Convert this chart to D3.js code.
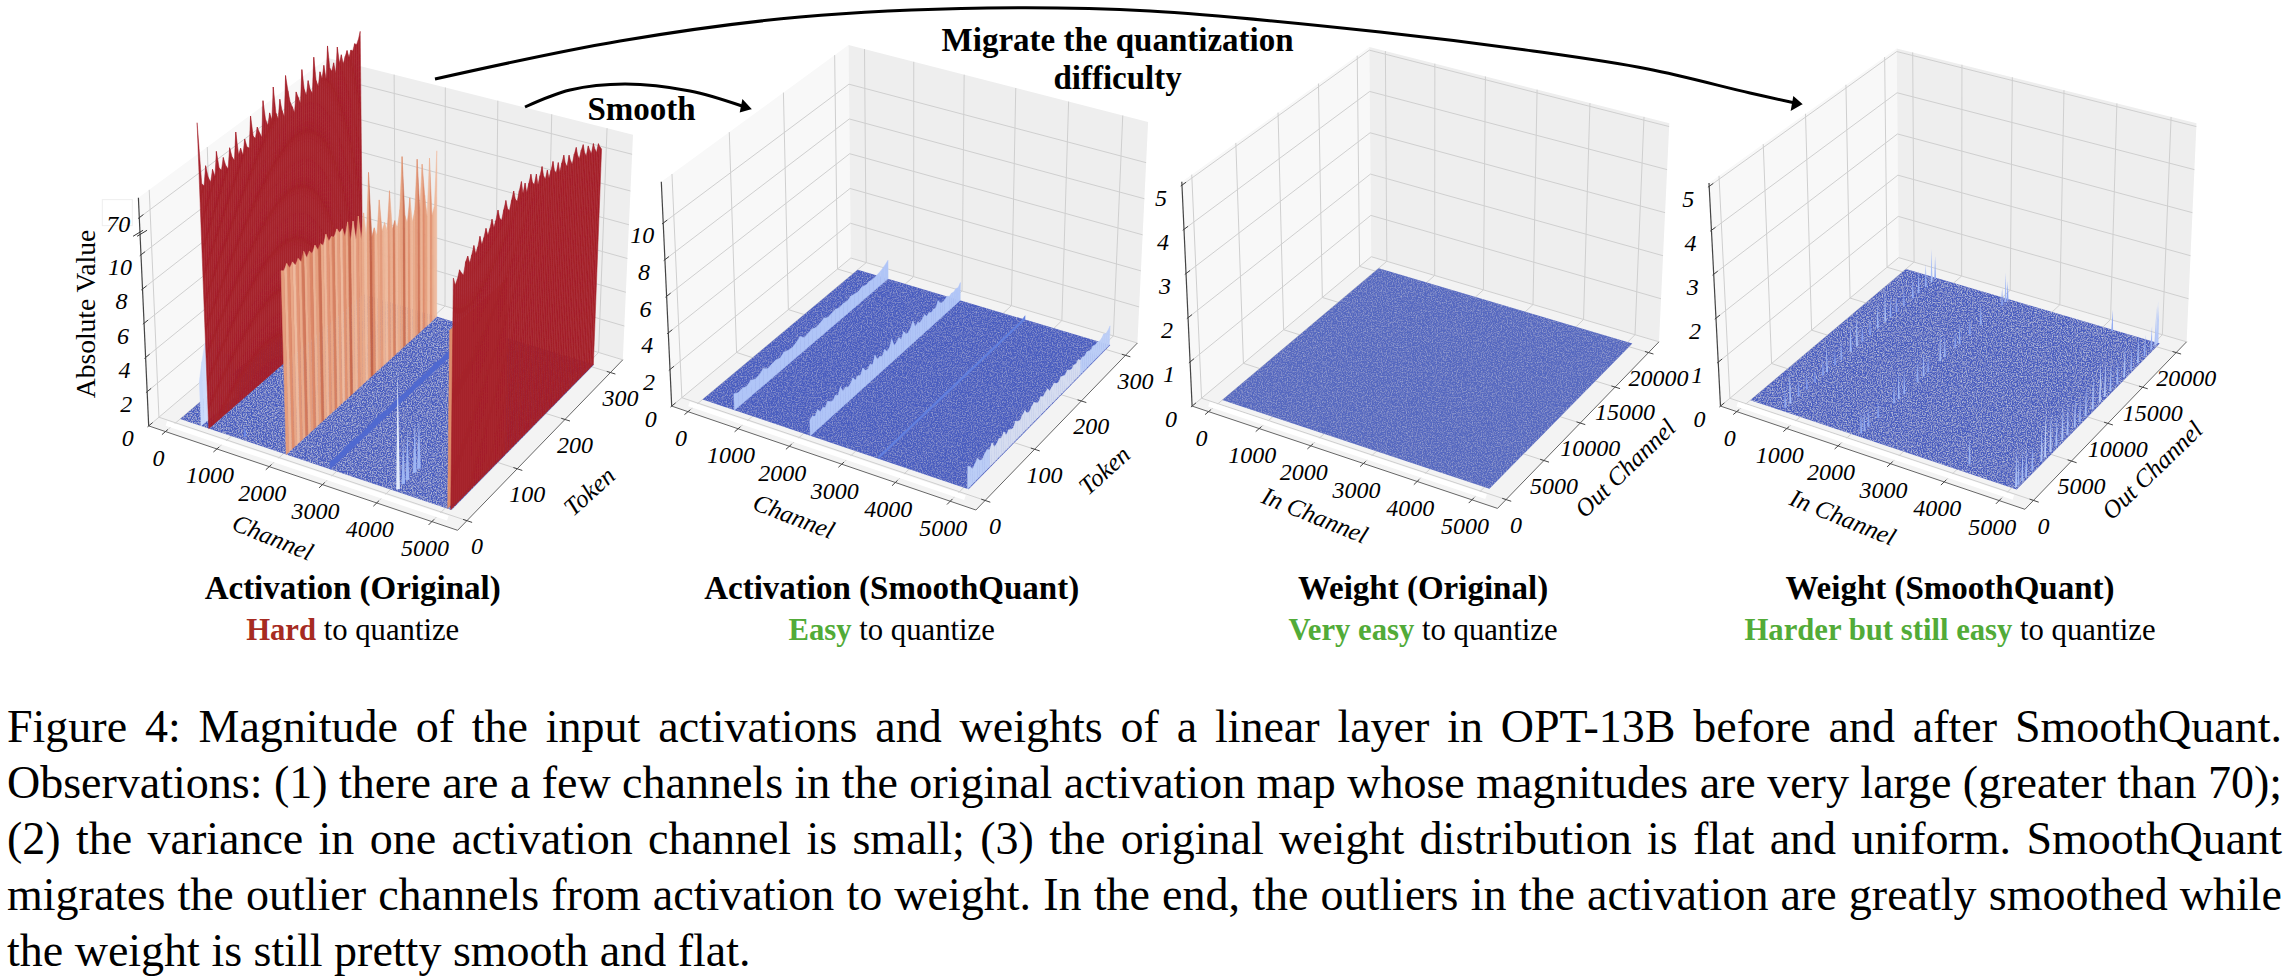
<!DOCTYPE html>
<html><head><meta charset="utf-8">
<script src="https://cdn.jsdelivr.net/npm/d3@7"></script>
<style>html,body{margin:0;background:#fff}svg{display:block}text{font-family:"Liberation Serif",serif;fill:#000}</style>
</head><body><svg id="c" width="2288" height="976"></svg>
<script>
// ---- values ----
const channelTicks=[0,1000,2000,3000,4000,5000];
const tokenTicks=[0,100,200,300];
const outChannelTicks=[0,5000,10000,15000,20000];
const zTicksA=[0,2,4,6,8,10,70];
const zTicksB=[0,2,4,6,8,10];
const zTicksW=[0,1,2,3,4,5];
const wall1Values=[228,126,120,150,128,118,136,122,160,130,124,142,126,118,150,132,124,168,128,136,122,146,130,126,176,140,134,150,138,128,186,152,140,158,144,196,150,138,168,146,134,200,172,150,140,128,160,148,136,190,154,142,164,146,138,196,154,142,164,150,170,144,198,158,150,162,142,184,154,166,148,158,166,152,162,158,168,164,170,182];
const wall4Values=[98,84,90,102,94,88,106,112,98,108,120,104,112,126,110,118,130,116,124,136,120,128,142,126,120,134,146,130,124,138,150,134,128,142,154,132,146,128,140,152,136,130,144,124,136,148,130,122,134,118,128,140,122,116,130,112,124,134,118,110,126,114,106,120,128,112,104,116,122,106,98,112,102,94,108,96,88,100,92,86];
const salmonValues=[27,23,31,20,26,17,24,15,28,14,21,13,23,12,18,11.5,26,11,15,10.5,20,10,13,9.5,17,9,11,8.8,12,8.5,10,8.4,69,8.2,8.6,8,10,8,8.4,7.8,11,7.6,8,7.4,8.4,50,7.8,7.2,8.6,7,7.6,25,7.4,10,8,6.6,10,6.4,6.8,12];
const salmonShade=[.5,.2,.7,.35,.1,.6,.3,.85,.25,.5,.75,.2,.45,.9,.3,.15,.6,.35,.8,.2,.5,.1,.65,.3,.95,.25,.15,.55,.4,.3,.1,.45,1,.7,.15,.35,.5,.2,.1,.5,.25,.8,.15,.3,.4,.9,.2,.6,.15,.3,.5,.85,.2,.7,.4,.1,.6,.2,.1,.7];
const sliverValues=[14,13,12,12,11,11];
const paleLeftValues=[2.6,3.6,4.4,5.1,4.2,3.4,4.8,3.8,3,2.8,2.6,2.4];
const bandValues=[.42,.36,.46,.4,.34,.42,.46,.36,.42,.38,.34,.42,.36,.44,.38,.42,.34,.38,.42,.36];
const spikeChannel=[[1200,14,.6],[4100,12,6.7],[4100,22,2.5],[4100,30,2.8],[4100,44,2.9],[4100,52,2.8]];
const ridgeA=[.9,.75,.8,.7,.85,.7,.75,.9,.7,.75,.8,.7,.85,.75,.7,.8,.95,.7,.75,.8,.7,.75,.85,.7,.75,.8,.7,.75,.7,.8,.75,.7,.8,.7,.75,.7,.75,.8,.9,1.05];
const ridgeB=[.85,.95,.8,1.05,.8,.9,.78,1.0,.85,.78,.95,.82,1.15,.8,.9,.78,.85,1.05,.8,.92,.8,1.1,.85,.78,.95,.8,1.2,.85,.9,.78,1.05,.82,.9,1.25,.8,.85,1.0,.78,1.1,.85,.8,.95,1.2,.8,.9,.78,.85,1.0,.8,.88,.78,.85,.8,1.1,.85,.78,.82,.9,.78,.85,.8,.88,.82,1.0];
const ridgeC=[.12,.14,.12,.13,.14,.12,.15,.13,.12,.14,.13,.12,.16,.13,.12,.14,.13,.15,.12,.13,.14,.12,.13,.15,.14,.12,.13,.14,.12,.15,.13,.12,.14,.13,.12,.14,.13,.12,.14,.22];
const ridgeD=[1.2,1.05,.8,.95,1.1,.85,.78,.95,1.05,.9,1.15,.8,.85,1,.9,1.1,.8,.95,.85,.78,1.05,.9,.82,1,1.1,.85,.78,.95,1.05,.9,.8,1,.85,.95,1.05,.8,.9,1,.85,.78,.95,.9,.82,.98,.85,.78,.9,.82,.95,.8,.85,.78,.9,.82,.78,.88,.8,.85,.78,.82,.95,.85,.9,1.05];
const spikeWeightA=[[640,900,.5],[640,1500,.75],[640,2500,.4],[640,3500,.35],[640,4500,.3],[640,5500,.4],[640,6000,.6],[640,7000,.35],[640,7800,.45],[640,9000,.65],[640,9800,.75],[640,10500,.4],[640,11500,.4],[640,12500,.6],[640,13500,.8],[640,14200,.5],[640,15000,.4],[640,16000,.4],[640,17200,.5],[640,18000,.55],[640,19000,.55],[640,19800,.8],[640,20300,.55]];
const spikeWeightB=[[2130,900,.5],[2130,1300,.5],[2130,1800,.45],[2130,3000,.4],[2130,5000,.5],[2130,5600,.65],[2130,6300,.55],[2130,8000,.5],[2130,8800,.6],[2130,9400,.4],[2130,11000,.7],[2130,11600,.55],[2130,13000,.4],[2130,13600,.5],[2130,15000,.4],[2130,16500,.5],[2130,19500,.4],[2130,20000,.7],[2130,20300,.45]];
const spikeWeightC=[[5050,700,.85],[5050,1000,.6],[5050,1500,.7],[5050,2000,.65],[5050,2800,.55],[5050,4000,.8],[5050,4500,1.05],[5050,5200,.9],[5050,6000,.7],[5050,6800,.8],[5050,7500,.7],[5050,8500,.7],[5050,9200,.55],[5050,10000,.7],[5050,11000,.8],[5050,12000,1],[5050,12700,.9],[5050,13500,.65],[5050,14500,.55],[5050,15500,.75],[5050,16500,.5],[5050,17500,.65],[5050,18500,.5],[5050,19500,.55],[5050,20100,.9],[5050,20300,1],[5050,20450,.9],[4200,20300,.5],[4100,1400,.6]];
const captionLines=[
"Figure 4: Magnitude of the input activations and weights of a linear layer in OPT-13B before and after SmoothQuant.",
"Observations: (1) there are a few channels in the original activation map whose magnitudes are very large (greater than 70);",
"(2) the variance in one activation channel is small; (3) the original weight distribution is flat and uniform. SmoothQuant",
"migrates the outlier channels from activation to weight. In the end, the outliers in the activation are greatly smoothed while",
"the weight is still pretty smooth and flat."];

// ---- layout ----
const FL=[[148.7,425.9],[457.6,530.3],[622.8,359.8],[330.8,271.5]], TL=[[138.4,197.8],[461,295],[633,134.7],[328,58]];
const panels=[
 {floor:FL,top:TL,xD:[-330,5460],yD:[-18,328],yStart:8,yTicks:tokenTicks,yMax:305,zD:[0,10,70,160],zR:[0,.75,.913,1.155],zT:zTicksA,xTitle:"Channel",xT:[273,537,22],yTitle:"Token",yT:[589,491,-42],head:"Activation (Original)",cx:352.7,strong:"Hard",col:"#a62b22",xMax:5110},
 {floor:[[671.7,406.1],[975.9,510],[1137.4,343],[850.8,258]],top:[[661.3,181.8],[979,278],[1148.1,122],[848.5,45]],xD:[-330,5460],yD:[-18,328],yStart:8,yTicks:tokenTicks,yMax:310,zD:[0,10],zR:[0,.816],zT:zTicksB,xTitle:"Channel",xT:[794,516,21],yTitle:"Token",yT:[1104,470,-42],head:"Activation (SmoothQuant)",cx:891.7,strong:"Easy",col:"#52ab38",xMax:5090},
 {floor:[[1192.1,406.1],[1497.5,508.4],[1659,341.8],[1371.2,256.7]],top:[[1181.8,181.8],[1500.8,276.4],[1669.3,123.3],[1369.3,47]],xD:[-330,5460],yD:[-1100,21600],yStart:500,yTicks:outChannelTicks,yMax:20480,zD:[0,5],zR:[0,.985],zT:zTicksW,xTitle:"In Channel",xT:[1315,515,22],yTitle:"Out Channel",yT:[1625,468,-44],head:"Weight (Original)",cx:1423,strong:"Very easy",col:"#52ab38",xMax:5090},
 {floor:[[1720.5,406.1],[2024.9,509.3],[2186.6,341.8],[1898.6,257.6]],top:[[1709,183],[2028,277.3],[2196.5,123.3],[1896.7,48.4]],xD:[-330,5460],yD:[-1100,21600],yStart:500,yTicks:outChannelTicks,yMax:20480,zD:[0,5],zR:[0,.985],zT:zTicksW,xTitle:"In Channel",xT:[1843,517,22],yTitle:"Out Channel",yT:[2152,470,-44],head:"Weight (SmoothQuant)",cx:1950,strong:"Harder but still easy",col:"#52ab38",xMax:5090}
];
function homography(q){const [A,B,C,D]=q;
 const dx1=B[0]-C[0],dx2=D[0]-C[0],sx=A[0]-B[0]+C[0]-D[0],dy1=B[1]-C[1],dy2=D[1]-C[1],sy=A[1]-B[1]+C[1]-D[1];
 const den=dx1*dy2-dx2*dy1,g=(sx*dy2-dx2*sy)/den,h=(dx1*sy-sx*dy1)/den;
 const a=B[0]-A[0]+g*B[0],b=D[0]-A[0]+h*D[0],d=B[1]-A[1]+g*B[1],e=D[1]-A[1]+h*D[1];
 return (u,v)=>{const w=g*u+h*v+1;return[(a*u+b*v+A[0])/w,(d*u+e*v+A[1])/w]};}
const svg=d3.select("#c");
const defs=svg.append("defs");
function speck(id,ka,kb){const fl=defs.append("filter").attr("id",id).attr("x",0).attr("y",0).attr("width",1).attr("height",1);
 fl.append("feTurbulence").attr("type","fractalNoise").attr("baseFrequency",.8).attr("numOctaves",2).attr("seed",4).attr("result","n");
 fl.append("feColorMatrix").attr("in","n").attr("type","matrix").attr("values",`0 0 0 0 .50  0 0 0 0 .54  0 0 0 0 .70  ${ka} 0 0 0 ${kb}`).attr("result","m");
 fl.append("feComposite").attr("in","m").attr("in2","SourceGraphic").attr("operator","in").attr("result","sp");
 fl.append("feGaussianBlur").attr("in","sp").attr("stdDeviation",.45).attr("result","b");
 const mg=fl.append("feMerge");mg.append("feMergeNode").attr("in","SourceGraphic");mg.append("feMergeNode").attr("in","b");}
speck("speck",2.4,-1.0);speck("speckSoft",1.3,-.56);
defs.append("filter").attr("id","soft").append("feGaussianBlur").attr("stdDeviation",.45);
const blues=d3.scaleLinear().domain([0,.2,.7,1.3,3,7]).range(["#4a5fc4","#6684e6","#a9c0f7","#c4d3f6","#c9d9fb","#e8effd"]);
const spikeBlue=d3.scaleLinear().domain([.3,.6,1.2]).range(["#7f99ee","#9db5f4","#c2d3fa"]);
const shade=d3.scaleLinear().domain([0,.3,.7,1]).range(["#f0c3a9","#e9ab8b","#df8d6c","#c4654a"]);
const RED="#a5212b";
const poly=(g,pts,fill,extra)=>g.append("path").attr("d",d3.line()(pts)+"Z").attr("fill",fill).attr("stroke",extra||"none").attr("stroke-width",extra?.5:0);

function drawPanel(p,idx){
 const Hf=homography(p.floor),Ht=homography(p.top);
 const X=d3.scaleLinear().domain(p.xD).range([0,1]),Y=d3.scaleLinear().domain(p.yD).range([0,1]),Z=d3.scaleLinear().domain(p.zD).range(p.zR);
 const P=(u,v,f)=>{const a=Hf(u,v),b=Ht(u,v);return[a[0]+(b[0]-a[0])*f,a[1]+(b[1]-a[1])*f]};
 const D=(x,y,z)=>P(X(x),Y(y),Z(z));
 const g=svg.append("g");
 // panes
 poly(g,[P(0,0,0),P(0,1,0),P(0,1,1),P(0,0,1)],"#f8f8f8");
 poly(g,[P(0,1,0),P(1,1,0),P(1,1,1),P(0,1,1)],"#eeeeee");
 poly(g,[P(0,0,0),P(1,0,0),P(1,1,0),P(0,1,0)],"#f3f3f3");
 const grid=g.append("g").attr("stroke","#cfcfcf").attr("stroke-width",1).attr("fill","none");
 const seg=(s,a,b,c,w)=>s.append("line").attr("x1",a[0]).attr("y1",a[1]).attr("x2",b[0]).attr("y2",b[1]).attr("stroke",c||null).attr("stroke-width",w||null);
 channelTicks.forEach(t=>{const u=X(t);seg(grid,P(u,0,0),P(u,1,0));seg(grid,P(u,1,0),P(u,1,1));});
 p.yTicks.forEach(t=>{const v=Y(t);seg(grid,P(0,v,0),P(1,v,0));seg(grid,P(0,v,0),P(0,v,1));});
 p.zT.forEach(t=>{const f=Z(t);seg(grid,P(0,0,f),P(0,1,f));seg(grid,P(0,1,f),P(1,1,f));});
 // axes
 const ax=g.append("g");
 seg(ax,P(0,0,0),P(0,0,1),"#444",1.2);seg(ax,P(0,0,0),P(1,0,0),"#666",1);seg(ax,P(1,0,0),P(1,1,0),"#666",1);
 const tick=(x,y,s)=>g.append("text").attr("x",x).attr("y",y).attr("dy",".35em").attr("text-anchor","middle").attr("font-size",24).attr("font-style","italic").text(s);
 channelTicks.forEach(t=>{const u=X(t);seg(ax,P(u,-.018,0),P(u,.012,0),"#444",1);const q=P(u,0,0);tick(q[0]-7,q[1]+26,t);});
 p.yTicks.forEach(t=>{const v=Y(t);seg(ax,P(1.016,v,0),P(.988,v,0),"#444",1);const q=P(1,v,0);tick(q[0]+10,q[1]+25,t);});
 p.zT.forEach(t=>{const f=Z(t);seg(ax,P(0,-.006,f),P(0,.02,f),"#444",1);const q=P(0,0,f);
  if(t===70){g.append("rect").attr("x",q[0]-37).attr("y",q[1]-18).attr("width",30).attr("height",26).attr("fill","#fff").attr("stroke","#eee");tick(q[0]-21,q[1]+6,t);}
  else tick(q[0]-21,q[1]+12,t);});
 // axis titles
 const title=(s,t)=>g.append("text").attr("transform",`translate(${t[0]},${t[1]}) rotate(${t[2]})`).attr("dy",".35em").attr("text-anchor","middle").attr("font-size",25).attr("font-style","italic").text(s);
 title(p.xTitle,p.xT);title(p.yTitle,p.yT);
 // surface
 const base=g.append("g");
 const tM=p.yMax,t0=p.yStart,xMax=p.xMax;
 seg(base,D(-120,t0*-.7,0),D(xMax+60,t0*-.7,0),"#fff",5);
 const surface=[D(0,t0,0),D(xMax,t0,0),D(xMax,tM,0),D(0,tM,0)];
 base.append("path").attr("d",d3.line()(surface)+"Z").attr("fill",idx===2?"#5568c0":"#4a5dc0").attr("filter",idx%3===0?"url(#speck)":"url(#speckSoft)");
 const marks=g.append("g").attr("filter","url(#soft)");
 const wall=(ch,vals,color,tMax)=>{const T=d3.scaleLinear().domain([0,vals.length-1]).range([t0,tMax||tM]);
  for(let i=vals.length-2;i>=0;i--){const c=color(vals[i],i);
   poly(marks,[D(ch,T(i),0),D(ch,T(i+1),0),D(ch,T(i+1),vals[i+1]),D(ch,T(i),vals[i])],c,c);}};
 const spike=(d,dc,dt,c)=>poly(marks,[D(d[0]-dc,d[1]-dt,0),D(d[0]+dc,d[1]+dt,0),D(d[0],d[1],d[2])],c);
 if(idx===0){
  wall(410,paleLeftValues,v=>blues(Math.max(v,1.6)),70);
  wall(560,wall1Values,()=>RED);
  spikeChannel.filter(d=>d[0]<1500).forEach(d=>spike(d,14,1.2,"#6d8ae8"));
  wall(2050,salmonValues,(v,i)=>shade(salmonShade[i]));
  wall(2880,bandValues,()=>"#5069d0");
  spikeChannel.filter(d=>d[0]>1500).slice().sort((a,b)=>b[1]-a[1]).forEach(d=>spike(d,22,1.2,d[2]>4?"#e3ebfc":"#9db5f4"));
  wall(5040,sliverValues,()=>"#dd8d6c",120);
  wall(5095,wall4Values,()=>RED);
 }
 if(idx===1){
  wall(640,ridgeA,v=>blues(.85));
  wall(2130,ridgeB,v=>blues(.85));
  wall(3430,ridgeC,v=>"#6280e0");
  wall(5070,ridgeD,(v,i)=>i<9||i>48?blues(1.1):"#d5dcf0");
 }
 if(idx===3){
  [...spikeWeightA,...spikeWeightB,...spikeWeightC].sort((a,b)=>a[0]-b[0]||b[1]-a[1]).forEach(d=>spike(d,12,50,spikeBlue(d[2])));
 }
 // headings
 g.append("text").attr("x",p.cx).attr("y",599).attr("text-anchor","middle").attr("font-size",33).attr("font-weight","bold").text(p.head);
 const sub=g.append("text").attr("x",p.cx).attr("y",640).attr("text-anchor","middle").attr("font-size",30.7);
 sub.append("tspan").attr("font-weight","bold").attr("style",`fill:${p.col}`).text(p.strong);
 sub.append("tspan").text(" to quantize");
 if(idx===0){
  g.append("text").attr("transform","translate(85,314) rotate(-90)").attr("dy",".35em").attr("text-anchor","middle").attr("font-size",27.5).text("Absolute Value");
  const q=P(0,0,.84);[-2,2].forEach(o=>seg(ax,[q[0]-5+o,q[1]+2],[q[0]+5+o,q[1]-4],"#333",1));
 }
}
panels.forEach(drawPanel);

// arrows
const arrowLine=d3.line().curve(d3.curveCatmullRom.alpha(.5));
const bigArc=[[435,79],[620,41],[800,17],[987,8],[1150,11],[1380,32],[1533,51],[1648,69],[1750,93],[1795,103]];
const smallArc=[[525,107],[570,90],[625,84],[690,91],[742,106]];
svg.append("path").attr("d",arrowLine(bigArc)).attr("fill","none").attr("stroke","#000").attr("stroke-width",3);
svg.append("path").attr("d",arrowLine(smallArc)).attr("fill","none").attr("stroke","#000").attr("stroke-width",3);
svg.append("path").attr("d","M1801,104L1792,109L1794,98Z").attr("stroke","#000").attr("stroke-width",2);
svg.append("path").attr("d","M750,108.6L741,111L743,101Z").attr("stroke","#000").attr("stroke-width",2);
const bold=(s,x,y)=>svg.append("text").attr("x",x).attr("y",y).attr("text-anchor","middle").attr("font-size",33).attr("font-weight","bold").text(s);
bold("Smooth",641.5,120);bold("Migrate the quantization",1117.6,51);bold("difficulty",1117.6,89);

// caption
const left=7,right=2282,base0=742,lead=56;
captionLines.forEach((s,i)=>{const t=svg.append("text").attr("x",left).attr("y",base0+lead*i).attr("font-size",46).text(s);
 if(i<4){const n=s.split(" ").length-1,w=t.node().getComputedTextLength();t.attr("word-spacing",(right-left-w)/n);}});
</script></body></html>
